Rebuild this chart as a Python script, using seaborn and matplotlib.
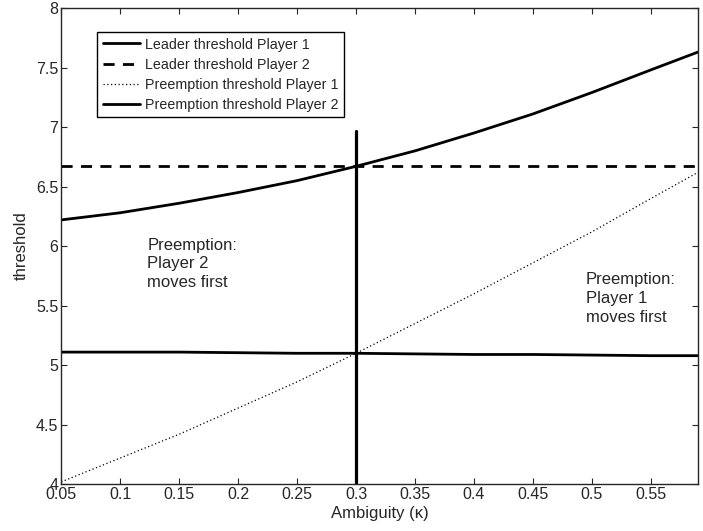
import numpy as np
import pandas as pd
import matplotlib
matplotlib.use("Agg")
import matplotlib.pyplot as plt
import seaborn as sns

# values
kappa = [0.05, 0.10, 0.15, 0.20, 0.25, 0.30, 0.35, 0.40, 0.45, 0.50, 0.55, 0.59]
leader_p1 = [6.22, 6.28, 6.36, 6.45, 6.55, 6.67, 6.80, 6.95, 7.11, 7.29, 7.48, 7.63]
leader_p2 = [6.67] * len(kappa)
preempt_p1 = [4.02, 4.22, 4.42, 4.64, 4.86, 5.10, 5.35, 5.60, 5.86, 6.12, 6.40, 6.62]
preempt_p2 = [5.11, 5.11, 5.11, 5.105, 5.10, 5.10, 5.095, 5.09, 5.09, 5.085, 5.08, 5.08]
cross_kappa = 0.3
cross_top = 6.97

sns.set_style("ticks")
plt.rcParams['font.family'] = ['Liberation Sans', 'DejaVu Sans']
plt.rcParams['xtick.direction'] = 'in'
plt.rcParams['ytick.direction'] = 'in'

df = pd.DataFrame({'kappa': kappa,
                   'Leader threshold Player 1': leader_p1,
                   'Leader threshold Player 2': leader_p2,
                   'Preemption threshold Player 1': preempt_p1,
                   'Preemption threshold Player 2': preempt_p2})

fig = plt.figure(figsize=(7.03, 5.31), dpi=100)
ax = fig.add_axes([0.087, 0.088, 0.906, 0.897])

sns.lineplot(data=df, x='kappa', y='Leader threshold Player 1', ax=ax,
             color='black', lw=2, label='Leader threshold Player 1')
sns.lineplot(data=df, x='kappa', y='Leader threshold Player 2', ax=ax,
             color='black', lw=2, ls=(0, (4, 3)), label='Leader threshold Player 2')
sns.lineplot(data=df, x='kappa', y='Preemption threshold Player 1', ax=ax,
             color='black', lw=0.9, ls=(0, (1, 2)), label='Preemption threshold Player 1')
sns.lineplot(data=df, x='kappa', y='Preemption threshold Player 2', ax=ax,
             color='black', lw=2, label='Preemption threshold Player 2')
ax.plot([cross_kappa, cross_kappa], [4, cross_top], color='black', lw=2.3)

ax.text(0.123, 6.07, 'Preemption:\nPlayer 2\nmoves first', fontsize=12, va='top',
        linespacing=1.3)
ax.text(0.495, 5.78, 'Preemption:\nPlayer 1\nmoves first', fontsize=12, va='top',
        linespacing=1.3)

ax.set_xlim(0.05, 0.59)
ax.set_ylim(4, 8)
ax.set_xticks(np.arange(0.05, 0.56, 0.05))
ax.set_xticklabels(['0.05', '0.1', '0.15', '0.2', '0.25', '0.3', '0.35',
                    '0.4', '0.45', '0.5', '0.55'])
ax.set_yticks(np.arange(4, 8.01, 0.5))
ax.set_yticklabels(['4', '4.5', '5', '5.5', '6', '6.5', '7', '7.5', '8'])
ax.tick_params(top=True, right=True, labelsize=11.5, length=4, width=0.8, pad=2)
for s in ax.spines.values():
    s.set_visible(True)
    s.set_linewidth(1)
ax.set_xlabel('Ambiguity (\u03ba)', fontsize=12, labelpad=3)
ax.set_ylabel('threshold', fontsize=12, labelpad=5)

leg = ax.legend(loc='upper left', bbox_to_anchor=(0.057, 0.95), borderaxespad=0,
                fontsize=10.3, frameon=True, fancybox=False, edgecolor='black',
                framealpha=1, handlelength=2.6, borderpad=0.4, labelspacing=0.42,
                handletextpad=0.3)
leg.get_frame().set_linewidth(1)

fig.savefig('out.png', dpi=100)
